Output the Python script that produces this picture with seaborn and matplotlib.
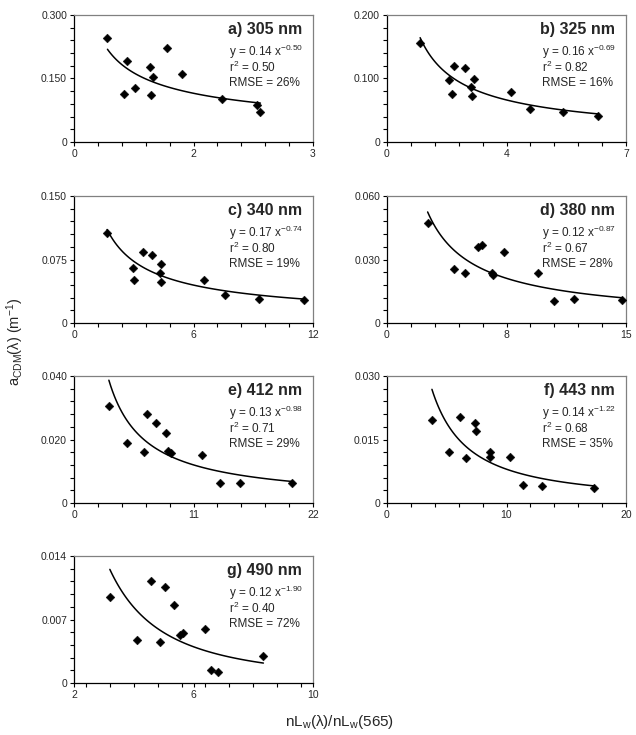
import numpy as np
import pandas as pd
import matplotlib
matplotlib.use("Agg")
import matplotlib.pyplot as plt
import seaborn as sns
import matplotlib.ticker as ticker

# panel titles and printed fit statistics (y = A * x^B)
TITLES = ["a) 305 nm", "b) 325 nm", "c) 340 nm", "d) 380 nm", "e) 412 nm", "f) 443 nm", "g) 490 nm"]
FIT_A_TXT = ["0.14", "0.16", "0.17", "0.12", "0.13", "0.14", "0.12"]
FIT_B_TXT = ["-0.50", "-0.69", "-0.74", "-0.87", "-0.98", "-1.22", "-1.90"]
R2_TXT = ["0.50", "0.82", "0.80", "0.67", "0.71", "0.68", "0.40"]
RMSE_TXT = ["26%", "16%", "19%", "28%", "29%", "35%", "72%"]

# scatter data, band ratio vs a_CDM
X_A = [0.42, 0.67, 0.63, 0.77, 0.96, 0.99, 0.97, 1.17, 1.35, 1.86, 2.30, 2.34]
Y_A = [0.245, 0.192, 0.113, 0.127, 0.178, 0.154, 0.111, 0.221, 0.160, 0.101, 0.087, 0.070]
X_B = [0.97, 1.83, 1.96, 1.91, 2.27, 2.55, 2.46, 2.48, 3.63, 4.20, 5.16, 6.17]
Y_B = [0.156, 0.097, 0.119, 0.075, 0.117, 0.099, 0.087, 0.072, 0.078, 0.052, 0.048, 0.041]
X_C = [1.66, 2.95, 3.02, 3.45, 3.91, 4.35, 4.33, 4.35, 6.52, 7.58, 9.27, 11.55]
Y_C = [0.106, 0.0645, 0.0513, 0.0835, 0.0808, 0.0696, 0.0591, 0.0486, 0.0505, 0.0330, 0.0288, 0.0276]
X_D = [2.55, 4.18, 4.87, 5.72, 5.97, 6.62, 6.66, 7.33, 9.50, 10.46, 11.75, 14.78]
Y_D = [0.0471, 0.0256, 0.0237, 0.0358, 0.0367, 0.0236, 0.0229, 0.0335, 0.0234, 0.0104, 0.0115, 0.0110]
X_E = [3.21, 4.92, 6.44, 6.76, 7.56, 8.48, 8.67, 8.95, 11.81, 13.43, 15.27, 20.1]
Y_E = [0.0304, 0.0188, 0.0162, 0.0279, 0.0251, 0.0222, 0.0163, 0.0157, 0.0151, 0.0064, 0.0064, 0.0064]
X_F = [3.76, 5.17, 6.10, 6.57, 7.38, 7.43, 8.62, 8.62, 10.30, 11.38, 12.98, 17.32]
Y_F = [0.0195, 0.0120, 0.0204, 0.0107, 0.0189, 0.0169, 0.0121, 0.0109, 0.0109, 0.0042, 0.0041, 0.0036]
X_G = [3.20, 4.11, 4.59, 4.87, 5.04, 5.34, 5.56, 5.66, 6.38, 6.59, 6.83, 8.34]
Y_G = [0.00948, 0.00470, 0.01125, 0.00452, 0.0106, 0.00857, 0.00525, 0.0055, 0.0059, 0.00145, 0.00116, 0.00297]

# axis ranges and tick labels
X_LIM = [(0, 3), (0, 7), (0, 12), (0, 15), (0, 22), (0, 20), (2, 10)]
Y_LIM = [(0, 0.3), (0, 0.2), (0, 0.15), (0, 0.06), (0, 0.04), (0, 0.03), (0, 0.014)]
X_TICKLABELS = [["0", "2", "3"], ["0", "4", "7"], ["0", "6", "12"], ["0", "8", "15"],
                ["0", "11", "22"], ["0", "10", "20"], ["2", "6", "10"]]
Y_TICKLABELS = [["0", "0.150", "0.300"], ["0", "0.100", "0.200"], ["0", "0.075", "0.150"],
                ["0", "0.030", "0.060"], ["0", "0.020", "0.040"], ["0", "0.015", "0.030"],
                ["0", "0.007", "0.014"]]

XS = [X_A, X_B, X_C, X_D, X_E, X_F, X_G]
YS = [Y_A, Y_B, Y_C, Y_D, Y_E, Y_F, Y_G]

sns.set_theme(style="ticks")
plt.rcParams['font.family'] = ['Liberation Sans', 'DejaVu Sans']
plt.rcParams['mathtext.default'] = 'regular'

W, H = 636, 735
fig = plt.figure(figsize=(W / 100, H / 100), dpi=100)

col_left = [74, 387]
row_bottom = [142, 323, 503, 683]
ax_w, ax_h = 239, 127

for i in range(7):
    r, c = divmod(i, 2)
    ax = fig.add_axes([col_left[c] / W, 1 - row_bottom[r] / H, ax_w / W, ax_h / H])

    df = pd.DataFrame({"x": XS[i], "y": YS[i]})
    # power-law fit, least squares in log-log space
    b, log_a = np.polyfit(np.log(df["x"]), np.log(df["y"]), 1)
    xs = np.linspace(df["x"].min(), df["x"].max(), 100)
    fit = pd.DataFrame({"x": xs, "y": np.exp(log_a) * xs ** b})

    sns.lineplot(data=fit, x="x", y="y", color="black", linewidth=1.1, ax=ax)
    sns.scatterplot(data=df, x="x", y="y", marker="D", s=20, color="black",
                    edgecolor="black", linewidth=0.3, ax=ax, zorder=3)

    x0, x1 = X_LIM[i]
    y0, y1 = Y_LIM[i]
    ax.set_xlim(x0, x1)
    ax.set_ylim(y0, y1)
    ax.set_xticks([x0, (x0 + x1) / 2, x1])
    ax.set_xticklabels(X_TICKLABELS[i])
    ax.set_yticks([y0, (y0 + y1) / 2, y1])
    ax.set_yticklabels(Y_TICKLABELS[i])
    ax.xaxis.set_minor_locator(ticker.MultipleLocator((x1 - x0) / 10))
    ax.yaxis.set_minor_locator(ticker.MultipleLocator((y1 - y0) / 10))
    ax.tick_params(which="both", direction="out", length=3, width=0.8, color="black",
                   labelsize=7.5, pad=2)
    ax.set_xlabel("")
    ax.set_ylabel("")

    for side in ["left", "bottom"]:
        ax.spines[side].set_color("black")
        ax.spines[side].set_linewidth(0.9)
    for side in ["top", "right"]:
        ax.spines[side].set_color("#808080")
        ax.spines[side].set_linewidth(0.9)

    ax.text(0.955, 0.885, TITLES[i], transform=ax.transAxes, ha="right", va="center",
            fontsize=11.5, fontweight="bold")
    ax.text(0.65, 0.71, f"y = {FIT_A_TXT[i]} x$^{{{FIT_B_TXT[i]}}}$", transform=ax.transAxes,
            ha="left", va="center", fontsize=8.5)
    ax.text(0.65, 0.585, f"r$^{{2}}$ = {R2_TXT[i]}", transform=ax.transAxes,
            ha="left", va="center", fontsize=8.5)
    ax.text(0.65, 0.465, f"RMSE = {RMSE_TXT[i]}", transform=ax.transAxes,
            ha="left", va="center", fontsize=8.5)

fig.text(15 / W, 1 - 342 / H, r"a$_{CDM}$(λ) (m$^{-1}$)", rotation=90,
         ha="center", va="center", fontsize=10.5)
fig.text(340 / W, 1 - 722 / H, r"nL$_{w}$(λ)/nL$_{w}$(565)", ha="center", va="center",
         fontsize=11)

fig.savefig("out.png", dpi=100)
